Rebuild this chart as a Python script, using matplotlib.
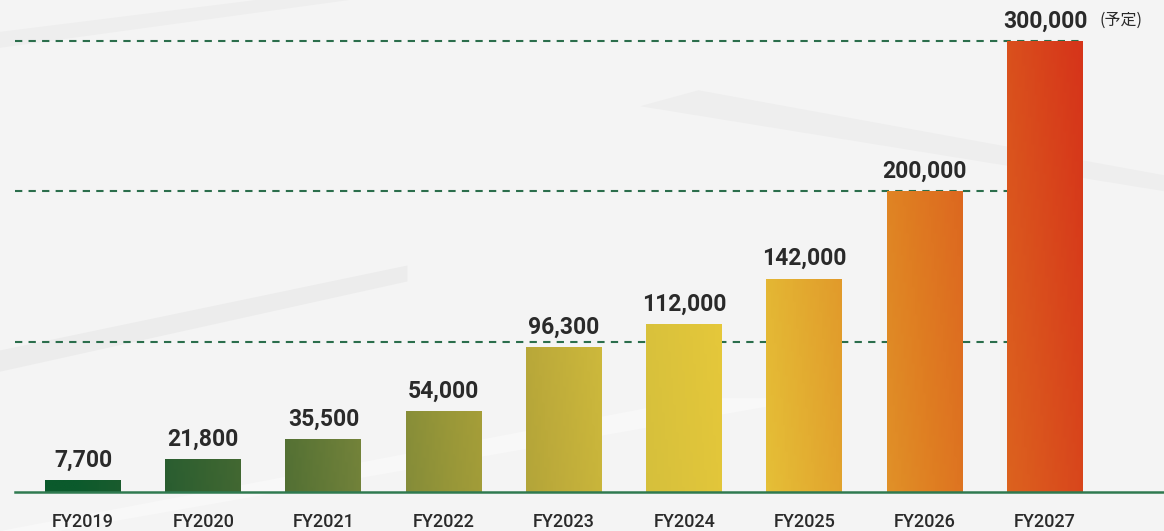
import numpy as np
import matplotlib.pyplot as plt
from matplotlib.colors import LinearSegmentedColormap
from matplotlib.patches import Polygon

anos = ['FY2019', 'FY2020', 'FY2021', 'FY2022', 'FY2023', 'FY2024', 'FY2025', 'FY2026', 'FY2027']
valores = [7700, 21800, 35500, 54000, 96300, 112000, 142000, 200000, 300000]
rotulos = ['7,700', '21,800', '35,500', '54,000', '96,300', '112,000', '142,000', '200,000', '300,000']
linhas_ref = [100000, 200000, 300000]

cores = ['#0b5a2c', '#2b5e30', '#4a6b32', '#72823a', '#9a9838', '#bcaa3a',
         '#d6c03c', '#e6c83a', '#e2a42e', '#df7e22', '#db5a1e', '#d6351a']

plt.rcParams['font.family'] = ['Roboto', 'DejaVu Sans']

fig = plt.figure(figsize=(11.64, 5.31), dpi=100)
fig.patch.set_facecolor('#f4f4f4')

# faixas claras no fundo (bem suaves)
for pts, c in [([(0, 0.30), (0.35, 0.47), (0.35, 0.50), (0, 0.34)], '#ececec'),
               ([(0, 0.0), (0.6, 0.25), (0.7, 0.25), (0.05, 0.0)], '#f8f8f8'),
               ([(0.55, 0.80), (1.0, 0.64), (1.0, 0.67), (0.6, 0.83)], '#eeeeee'),
               ([(0.0, 0.91), (0.3, 1.0), (0.22, 1.0), (0.0, 0.94)], '#eeeeee')]:
    fig.patches.append(Polygon(pts, closed=True, transform=fig.transFigure,
                               facecolor=c, edgecolor='none', zorder=0))

x0 = -0.565
x1 = 8.99
ytop = 492 / 451 * 300000
ax = fig.add_axes([15 / 1164, 39 / 531, 1 - 15 / 1164, 492 / 531])
ax.set_zorder(2)
ax.set_facecolor('none')
ax.set_xlim(x0, x1)
ax.set_ylim(0, ytop)

x = np.arange(len(anos))
larg = 0.632

for v in linhas_ref:
    ax.plot([x0, 8 + larg / 2], [v, v], color='#2b6e4c', lw=1.5,
            dashes=(3.5, 3), zorder=1)

barras = ax.bar(x, valores, width=larg, color='none', zorder=2)

cmap = LinearSegmentedColormap.from_list('grad', cores)
gx, gy = np.meshgrid(np.linspace(0, 1, 400), np.linspace(0, 1, 200))
grad = np.clip((gx - 0.05) / 0.92 + 0.05 * gy, 0, 1)
for b in barras:
    im = ax.imshow(grad, cmap=cmap, extent=[x0, x1, 0, ytop], origin='lower',
                   aspect='auto', zorder=2, interpolation='bilinear')
    im.set_clip_path(b)

ax.axhline(0, color='#2f7a50', lw=1.8, zorder=3, clip_on=False)

for i, v in enumerate(valores):
    ax.annotate(rotulos[i], (x[i], v), xytext=(0, 6), textcoords='offset points',
                ha='center', va='bottom', fontsize=16.5, fontweight='bold', color='#2a2a2a')

ax.annotate('(予定)', (x[-1], valores[-1]), xytext=(39, 9), textcoords='offset points',
            ha='left', va='bottom', fontsize=11.5, color='#2a2a2a',
            family=['Noto Sans CJK JP', 'DejaVu Sans'])

ax.set_xticks(x)
ax.set_xticklabels(anos, fontsize=13, color='#2a2a2a', fontweight='medium')
ax.tick_params(axis='x', length=0, pad=15)
ax.set_yticks([])
for s in ax.spines.values():
    s.set_visible(False)

plt.savefig('out.png', dpi=100, facecolor=fig.get_facecolor())
